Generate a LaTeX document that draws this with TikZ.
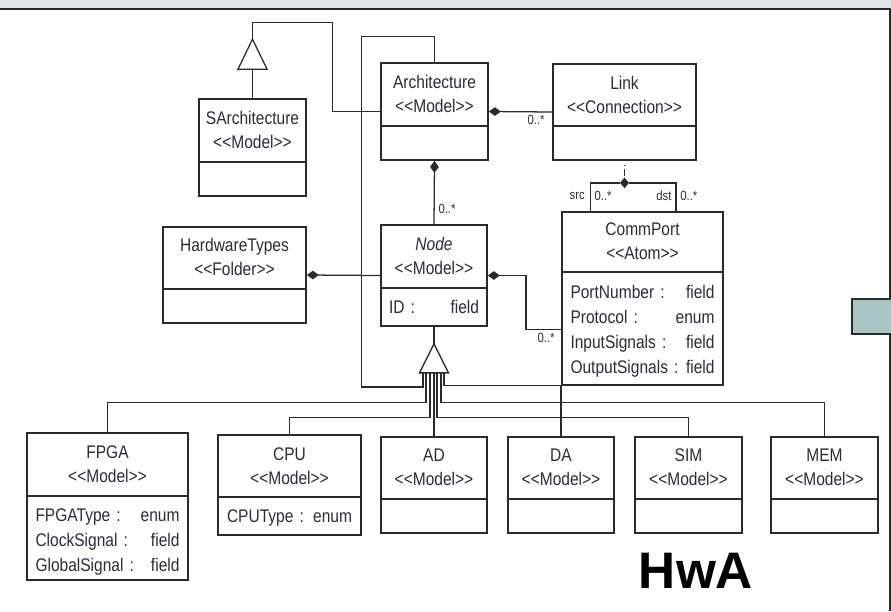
\documentclass[tikz,border=0pt]{standalone}
\usepackage{fontspec}
\setmainfont{Liberation Sans}[FakeStretch=0.85]
\newfontfamily\hwafont{Liberation Sans}
\usetikzlibrary{arrows.meta,positioning,shapes.geometric,fit,calc}
\definecolor{umlInk}{HTML}{2A2A2A}
\definecolor{umlText}{HTML}{2B2B3A}
\definecolor{umlBand}{HTML}{E3E4E8}
\definecolor{umlTab}{HTML}{A8C4C4}

\begin{document}
\begin{tikzpicture}[x=0.75pt, y=-0.75pt,
  umlbox/.style={draw=umlInk, line width=1.3pt, inner sep=0pt},
  ttl/.style={font=\fontsize{13.7}{18}\selectfont, align=center, text=umlText, inner sep=0pt},
  attr/.style={font=\fontsize{13.7}{18.75}\selectfont, align=left, text=umlText, inner sep=0pt},
  divider/.style={draw=umlInk, line width=1.1pt},
  conn/.style={draw=umlInk, line width=0.95pt},
  compo/.style={conn, {Diamond[length=9pt,width=6.5pt]}-},
  gen/.style={conn, fill=white},
  mult/.style={font=\fontsize{10}{11}\selectfont, text=umlText, inner sep=0pt}]
\useasboundingbox (0,0) rectangle (891,611);
\fill[umlBand] (0,0) rectangle (891,9);
\draw[umlInk, line width=1.5pt] (0,9) -- (891,9);
\draw[umlInk, line width=1.2pt] (890,9) -- (890,611);
\draw[umlInk, line width=1.5pt, fill=umlTab] (852,299) rectangle (896,334);

% upper classes
\node[umlbox, fit={(381,63)(488,160)}] (arch) {};
\node[ttl] (archT) at ($(arch.north)+(0,32)$) {Architecture\\<{}<Model>{}>};
\draw[divider] ($(arch.north west)+(0,64)$) -- ($(arch.north east)+(0,64)$);

\node[umlbox, fit={(553,64)(696,160)}] (link) {};
\node[ttl] (linkT) at ($(link.north)+(0,32)$) {Link\\<{}<Connection>{}>};
\draw[divider] ($(link.north west)+(0,63)$) -- ($(link.north east)+(0,63)$);

\node[umlbox, fit={(199,99)(306,196)}] (sarch) {};
\node[ttl] (sarchT) at ($(sarch.north)+(0,32)$) {SArchitecture\\<{}<Model>{}>};
\draw[divider] ($(sarch.north west)+(0,64)$) -- ($(sarch.north east)+(0,64)$);

\node[umlbox, fit={(163,227)(306,323)}] (hwt) {};
\node[ttl] (hwtT) at ($(hwt.north)+(0,31)$) {HardwareTypes\\<{}<Folder>{}>};
\draw[divider] ($(hwt.north west)+(0,63)$) -- ($(hwt.north east)+(0,63)$);

\node[umlbox, fit={(381,225)(487,326)}] (node) {};
\node[ttl] (nodeT) at ($(node.north)+(0,32)$) {\itshape Node\\<{}<Model>{}>};
\draw[divider] ($(node.north west)+(0,64)$) -- ($(node.north east)+(0,64)$);
\node[attr, text width=67.5pt] (nodeA) at ($(node.north)+(0,83)$) {ID :\hfill field};

\node[umlbox, fit={(562,212)(723,385)}] (cport) {};
\node[ttl] (cportT) at ($(cport.north)+(0,30)$) {CommPort\\<{}<Atom>{}>};
\draw[divider] ($(cport.north west)+(0,61)$) -- ($(cport.north east)+(0,61)$);
\node[attr, text width=108pt] (cportA) at ($(cport.north)+(0,120.5)$)
  {PortNumber :\hfill field\\Protocol :\hfill enum\\InputSignals :\hfill field\\OutputSignals :\hfill field};

% lower classes
\node[umlbox, fit={(27,433)(188,580)}] (fpga) {};
\node[ttl] (fpgaT) at ($(fpga.north)+(0,32)$) {FPGA\\<{}<Model>{}>};
\draw[divider] ($(fpga.north west)+(0,64)$) -- ($(fpga.north east)+(0,64)$);
\node[attr, text width=108pt] (fpgaA) at ($(fpga.north)+(0,109.5)$)
  {FPGAType :\hfill enum\\ClockSignal :\hfill field\\GlobalSignal :\hfill field};

\node[umlbox, fit={(218,435)(361,535)}] (cpu) {};
\node[ttl] (cpuT) at ($(cpu.north)+(0,32)$) {CPU\\<{}<Model>{}>};
\draw[divider] ($(cpu.north west)+(0,63)$) -- ($(cpu.north east)+(0,63)$);
\node[attr, text width=93.75pt] (cpuA) at ($(cpu.north)+(0,84)$) {CPUType :\hfill enum};

\node[umlbox, fit={(381,437)(487,533)}] (ad) {};
\node[ttl] (adT) at ($(ad.north)+(0,31)$) {AD\\<{}<Model>{}>};
\draw[divider] ($(ad.north west)+(0,63)$) -- ($(ad.north east)+(0,63)$);

\node[umlbox, fit={(508,437)(614,533)}] (da) {};
\node[ttl] (daT) at ($(da.north)+(0,31)$) {DA\\<{}<Model>{}>};
\draw[divider] ($(da.north west)+(0,63)$) -- ($(da.north east)+(0,63)$);

\node[umlbox, fit={(635,437)(742,533)}] (sim) {};
\node[ttl] (simT) at ($(sim.north)+(0,31)$) {SIM\\<{}<Model>{}>};
\draw[divider] ($(sim.north west)+(0,63)$) -- ($(sim.north east)+(0,63)$);

\node[umlbox, fit={(771,437)(878,533)}] (mem) {};
\node[ttl] (memT) at ($(mem.north)+(0,31)$) {MEM\\<{}<Model>{}>};
\draw[divider] ($(mem.north west)+(0,63)$) -- ($(mem.north east)+(0,63)$);

% generalizations
\coordinate (g1) at ($(sarch.north)+(0,-59)$);
\draw[conn] (sarch.north) -- ++(0,-29);
\draw[gen] (g1) -- ++(-14.5,30) -- ++(29,0) -- cycle;
\draw[conn] (arch.west) -- ++(-48,0) |- ($(g1)+(0,-17)$) -- (g1);

\coordinate (g2) at ($(node.south)+(0,17)$);
\coordinate (b2) at ($(g2)+(0,29)$);
\draw[conn] (node.south) -- (g2);
\draw[gen] (g2) -- ++(-14.5,29) -- ++(29,0) -- cycle;
\draw[conn] ($(b2)+(-11,0)$) -- ++(0,14) -| ($(arch.north)+(-73,-26)$) -- ($(arch.north)+(0,-26)$) -- (arch.north);
\draw[conn] ($(b2)+(-8,0)$) |- ($(fpga.north)+(0,-30)$) -- (fpga.north);
\draw[conn] ($(b2)+(-4,0)$) |- ($(cpu.north)+(0,-17)$) -- (cpu.north);
\draw[conn] (ad.north |- b2) -- (ad.north);
\draw[conn] ($(b2)+(3,0)$) |- ($(sim.north)+(0,-19)$) -- (sim.north);
\draw[conn] ($(b2)+(7,0)$) |- ($(mem.north)+(0,-34)$) -- (mem.north);
\draw[conn] ($(b2)+(10,0)$) |- ($(da.north)+(0,-51)$) -- (da.north);

% compositions
\draw[compo] (arch.east) -- (link.west);
\draw[compo] (arch.south) -- (node.north);
\draw[compo] (hwt.east) -- (node.west);
\draw[compo] (node.east) -- ++(38,0) |- ($(cport.north west)+(0,118)$);

\node[diamond, fill=umlInk, inner sep=0pt, minimum width=6.75pt, minimum height=8.25pt] (lk) at ($(link.south)+(0,22)$) {};
\draw[conn, dash pattern=on 0pt off 3pt on 1pt off 2pt on 5pt off 20pt] (link.south) -- (lk.north);
\draw[conn] (lk) -| ($(cport.north west)+(29,0)$);
\draw[conn] (lk) -| ($(cport.north east)+(-48,0)$);

% multiplicities
\node[mult] (mLink) at ($(link.west)+(-16,8)$) {0..*};
\node[mult] (mNode) at ($(node.north)+(13,-15)$) {0..*};
\node[mult] (mPort) at ($(cport.north west)+(-15,127)$) {0..*};
\node[mult] (mSrc) at ($(cport.north west)+(16,-15)$) {src};
\node[mult] (mSrcN) at ($(cport.north west)+(42,-15)$) {0..*};
\node[mult] (mDst) at ($(cport.north east)+(-60,-15)$) {dst};
\node[mult] (mDstN) at ($(cport.north east)+(-35,-15)$) {0..*};

\node[font=\hwafont\bfseries\fontsize{38.5}{40}\selectfont, anchor=base, inner sep=0pt] (hwa) at (696,588) {HwA};
\end{tikzpicture}
\end{document}
